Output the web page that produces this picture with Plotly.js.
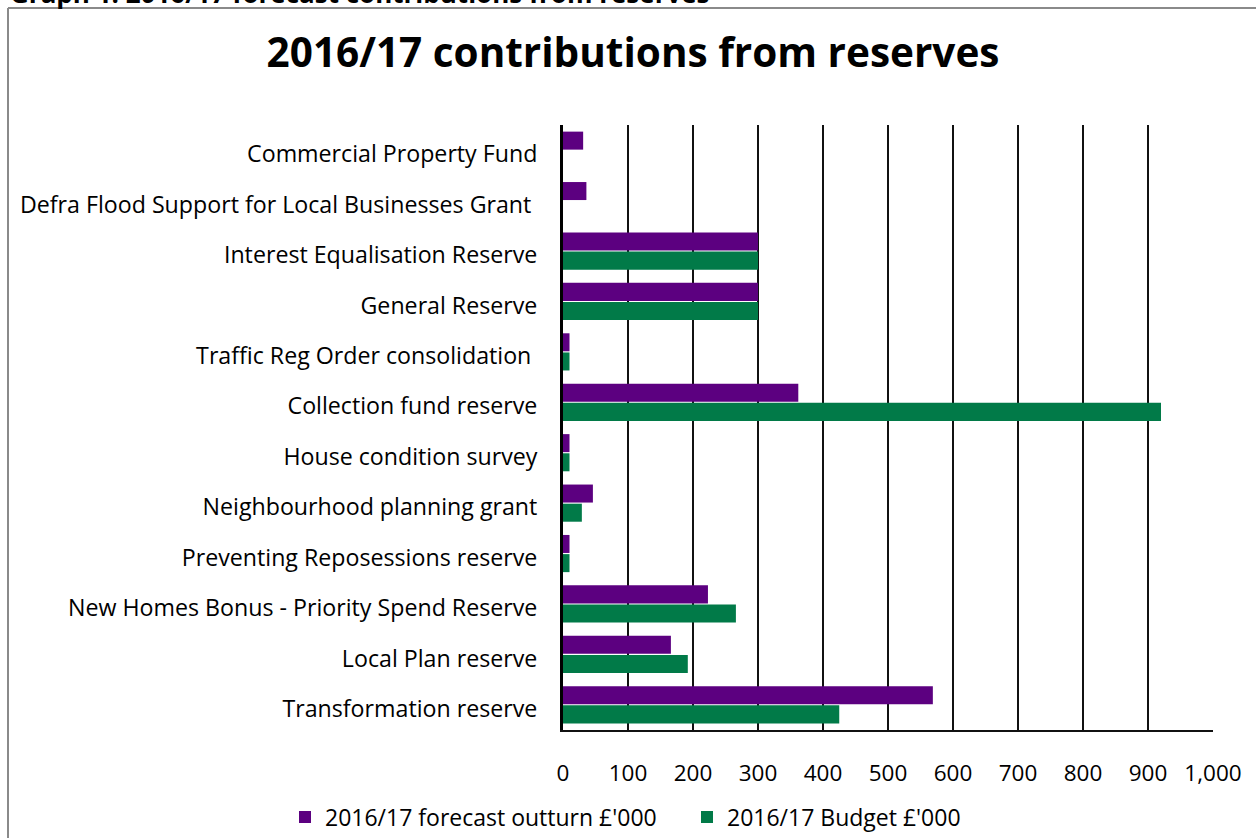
<!DOCTYPE html>
<html>
<head>
<meta charset="utf-8">
<script src="https://cdn.plot.ly/plotly-3.0.1.min.js"></script>
<style>
html,body{margin:0;padding:0;background:#fff;overflow:hidden;}
#chart{width:1256px;height:838px;}
</style>
</head>
<body>
<div id="chart"></div>
<script>
const categories = [
  "Transformation reserve",
  "Local Plan reserve",
  "New Homes Bonus - Priority Spend Reserve",
  "Preventing Reposessions reserve",
  "Neighbourhood planning grant",
  "House condition survey",
  "Collection fund reserve",
  "Traffic Reg Order consolidation ",
  "General Reserve",
  "Interest Equalisation Reserve",
  "Defra Flood Support for Local Businesses Grant ",
  "Commercial Property Fund"
];
const forecastOutturn = [569, 166, 223, 10, 46, 10, 362, 10, 300, 300, 36, 31];
const budget = [425, 192, 266, 10, 29, 10, 920, 10, 300, 300, null, null];
const xTicks = [0, 100, 200, 300, 400, 500, 600, 700, 800, 900, 1000];

const FONT = "Open Sans, Noto Sans, sans-serif";
const L = 563, R = 1213, T = 125, B = 730;
const px = v => (v - L) / (R - L);
const py = v => (B - v) / (B - T);

const traces = [
  {
    type: "bar", orientation: "h", name: "2016/17 Budget £'000",
    y: categories, x: budget,
    marker: {color: "#017a48"}
  },
  {
    type: "bar", orientation: "h", name: "2016/17 forecast outturn £'000",
    y: categories, x: forecastOutturn,
    marker: {color: "#5c0080"}
  }
];

const layout = {
  width: 1256, height: 838,
  paper_bgcolor: "#fff", plot_bgcolor: "#fff",
  margin: {l: L, r: 1256 - R, t: T, b: 838 - B, pad: 0, autoexpand: false},
  barmode: "group", bargap: 0.24, bargroupgap: 0.06,
  font: {family: FONT, color: "#000"},
  title: {
    text: "<b>2016/17 contributions from reserves</b>",
    font: {family: FONT, size: 40.5, color: "#000"},
    x: 0.504, xanchor: "center", y: 1 - 53/838, yanchor: "middle"
  },
  xaxis: {
    range: [0, 1000], tickvals: xTicks, tickformat: ",",
    showgrid: true, gridcolor: "#111", gridwidth: 2,
    zeroline: false, showline: true, linecolor: "#111", linewidth: 2,
    ticks: "", ticklabelstandoff: 22,
    tickfont: {family: FONT, size: 22.5, color: "#000"}, fixedrange: true
  },
  yaxis: {
    type: "category", categoryorder: "array", categoryarray: categories,
    showgrid: false, zeroline: false, showline: true, linecolor: "#000", linewidth: 3,
    ticks: "", ticklabelstandoff: 18, ticklabelshift: 4,
    tickfont: {family: FONT, size: 23.2, color: "#000"}, fixedrange: true
  },
  showlegend: true,
  legend: {
    orientation: "h", traceorder: "reversed",
    x: px(285), xanchor: "left", xref: "paper",
    y: py(817), yanchor: "middle", yref: "paper",
    font: {family: FONT, size: 23, color: "#000"},
    itemwidth: 30, entrywidth: 357
  },
  shapes: [
    {type: "line", xref: "paper", yref: "paper", x0: px(8), x1: px(1300), y0: py(8), y1: py(8), line: {color: "#8a8a8a", width: 2}},
    {type: "line", xref: "paper", yref: "paper", x0: px(8), x1: px(8), y0: py(8), y1: py(900), line: {color: "#8a8a8a", width: 2}}
  ],
  annotations: [
    {
      text: "<b>Graph 1: 2016/17 forecast contributions from reserves</b>",
      xref: "paper", yref: "paper", x: px(8), y: py(13), xanchor: "left", yanchor: "bottom",
      showarrow: false, font: {family: FONT, size: 26, color: "#000"}
    }
  ]
};

Plotly.newPlot("chart", traces, layout, {displayModeBar: false, staticPlot: true});
</script>
</body>
</html>
